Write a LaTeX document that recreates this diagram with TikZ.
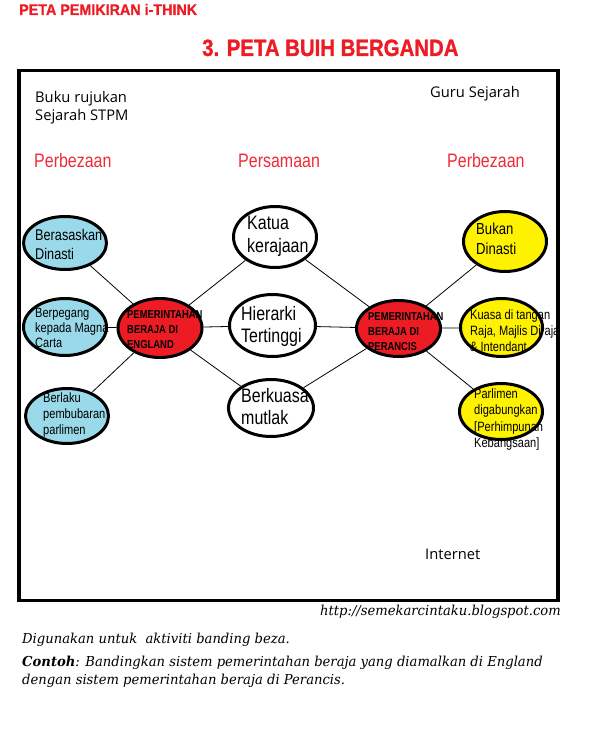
\documentclass[tikz,border=0pt]{standalone}
\usepackage{fontspec}
\setmainfont{Liberation Sans}
\newfontfamily\bubfont[FakeStretch=0.82]{Liberation Sans}
\newfontfamily\tagfont[FakeStretch=0.93,FakeBold=1]{Liberation Sans}
\newfontfamily\headfont[FakeStretch=0.86,FakeBold=1.2]{Liberation Sans}
\newfontfamily\notefont{Open Sans}
\newfontfamily\footfont[FakeStretch=0.96]{DejaVu Serif}
\usetikzlibrary{shapes.geometric}
\definecolor{paintred}{HTML}{ED1C24}
\definecolor{headred}{HTML}{EE2B36}
\definecolor{skyblue}{HTML}{99D9EA}
\definecolor{paintyellow}{HTML}{FFF200}

\begin{document}
\begin{tikzpicture}[x=1pt, y=-1pt,
  bubble/.style={draw, ellipse, line width=3pt, inner sep=0pt},
  lbub/.style={bubble, fill=skyblue},
  sbub/.style={bubble, fill=white},
  rbub/.style={bubble, fill=paintyellow},
  hub/.style={bubble, fill=paintred},
  txt/.style={anchor=west, inner sep=0pt, align=left},
  note/.style={anchor=base west, inner sep=0pt, font=\notefont\fontsize{14.7}{18}\selectfont},
  side/.style={anchor=base west, inner sep=0pt, text=headred, font=\bubfont\fontsize{19.5}{23}\selectfont},
  foot/.style={anchor=base west, inner sep=0pt, font=\footfont\itshape\fontsize{13.7}{18}\selectfont},
  link/.style={line width=0.8pt}
]
\useasboundingbox (0,0) rectangle (604,752);

% headings
\node[anchor=base west, inner sep=0pt, text=paintred, font=\tagfont\bfseries\fontsize{15.4}{18}\selectfont] (maptag) at (19,15) {PETA PEMIKIRAN i-THINK};
\node[anchor=base west, inner sep=0pt, text=paintred, font=\headfont\bfseries\fontsize{23.7}{28}\selectfont] (title) at (202,56) {3. PETA BUIH BERGANDA};

% board
\draw[line width=3.5pt] (19,70.5) rectangle (558,600.5);

\node[txt, font=\notefont\fontsize{14.7}{18}\selectfont] (book) at (35,107.5) {Buku rujukan\\Sejarah STPM};
\node[note] (teacher) at (430,97.7) {Guru Sejarah};
\node[note] (web) at (425,559) {Internet};

\node[side] (diffl) at (34,167) {Perbezaan};
\node[side] (same) at (238,167) {Persamaan};
\node[side] (diffr) at (447,167) {Perbezaan};

% bubbles
\node[lbub, minimum width=83, minimum height=53] (l1) at (65,243) {};
\node[lbub, minimum width=83, minimum height=57] (l2) at (65,327) {};
\node[lbub, minimum width=83, minimum height=55] (l3) at (67,416) {};
\node[hub, minimum width=84, minimum height=59] (eng) at (160,328) {};
\node[sbub, minimum width=83, minimum height=61] (m1) at (275,237) {};
\node[sbub, minimum width=86, minimum height=62] (m2) at (272.5,325.5) {};
\node[sbub, minimum width=85, minimum height=57] (m3) at (271,408) {};
\node[hub, minimum width=84, minimum height=56] (fra) at (398.5,328.5) {};
\node[rbub, minimum width=83, minimum height=60] (r1) at (505,241.5) {};
\node[rbub, minimum width=82, minimum height=58] (r2) at (501.5,327.5) {};
\node[rbub, minimum width=83, minimum height=56] (r3) at (501,411.5) {};

% links
\foreach \b in {l1,l2,l3,m1,m2,m3} \draw[link] (eng) -- (\b);
\foreach \b in {m1,m2,m3,r1,r2,r3} \draw[link] (fra) -- (\b);

% bubble texts
\node[txt, font=\bubfont\fontsize{15.5}{19}\selectfont] (l1t) at (35,244.5) {Berasaskan\\Dinasti};
\node[txt, font=\bubfont\fontsize{13.5}{15}\selectfont] (l2t) at (35,328) {Berpegang\\kepada Magna\\Carta};
\node[txt, font=\bubfont\fontsize{13.5}{16}\selectfont] (l3t) at (43,415) {Berlaku\\pembubaran\\parlimen};
\node[txt, font=\bubfont\bfseries\fontsize{11.5}{15}\selectfont] (engt) at (127,330) {PEMERINTAHAN\\BERAJA  DI\\ENGLAND};
\node[txt, font=\bubfont\fontsize{19.5}{23}\selectfont] (m1t) at (247,236.5) {Katua\\kerajaan};
\node[txt, font=\bubfont\fontsize{19.5}{22}\selectfont] (m2t) at (241,326.5) {Hierarki\\Tertinggi};
\node[txt, font=\bubfont\fontsize{19.5}{22}\selectfont] (m3t) at (241,407) {Berkuasa\\mutlak};
\node[txt, font=\bubfont\bfseries\fontsize{11.5}{15}\selectfont] (frat) at (368,332) {PEMERINTAHAN\\BERAJA DI\\PERANCIS};
\node[txt, font=\bubfont\fontsize{16}{20}\selectfont] (r1t) at (476,238.5) {Bukan\\Dinasti};
\node[txt, font=\bubfont\fontsize{13.5}{16}\selectfont] (r2t) at (470,331) {Kuasa di tangan\\Raja, Majlis Diraja\\\& Intendant};
\node[txt, font=\bubfont\fontsize{13.5}{16.3}\selectfont] (r3t) at (474,419.5) {Parlimen\\digabungkan\\{[Perhimpunan}\\Kebangsaan]};

% footer
\node[anchor=base east, inner sep=0pt, font=\footfont\itshape\fontsize{13.7}{18}\selectfont] (url) at (561,615) {http://semekarcintaku.blogspot.com};
\node[foot] (use) at (22,643) {Digunakan untuk~ aktiviti banding beza.};
\node[foot] (ex1) at (22,666) {\textbf{Contoh}: Bandingkan sistem pemerintahan beraja yang diamalkan di England};
\node[foot] (ex2) at (22,684) {dengan sistem pemerintahan beraja di Perancis.};
\end{tikzpicture}
\end{document}
